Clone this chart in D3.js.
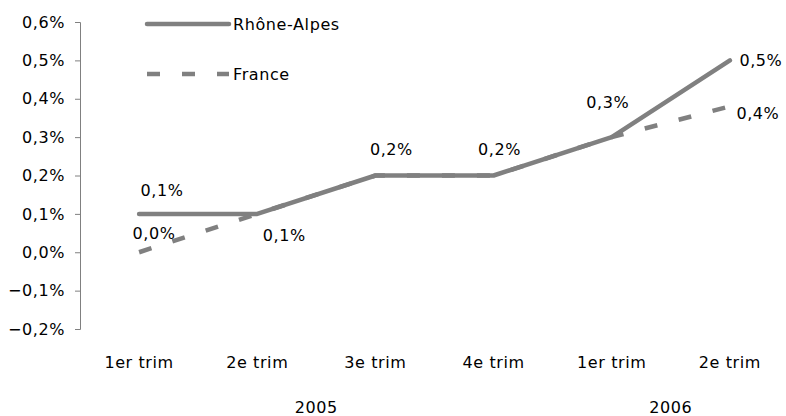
<!DOCTYPE html>
<html lang="fr">
<head>
    <meta charset="UTF-8">
    <title>Rhône-Alpes / France</title>
    <script src="https://cdnjs.cloudflare.com/ajax/libs/d3/7.8.5/d3.min.js"></script>
    <style>
        body { margin: 0; background: #fff; }
        text { font-family: "DejaVu Sans", sans-serif; font-size: 16px; fill: #000; letter-spacing: 0.6px; }
    </style>
</head>
<body>
<svg id="chart" width="786" height="416"></svg>
<script>
    const quarters = ['1er trim', '2e trim', '3e trim', '4e trim', '1er trim', '2e trim'];
    const years = ['2005', '2006'];
    const yearSpan = [[0, 3], [4, 5]];
    const rhoneAlpes = [0.1, 0.1, 0.2, 0.2, 0.3, 0.5];
    const france = [0.0, 0.1, 0.2, 0.2, 0.3, 0.38];
    const yTicks = [-0.2, -0.1, 0, 0.1, 0.2, 0.3, 0.4, 0.5, 0.6];

    const fmt = v => d3.format('.1f')(v).replace('.', ',') + '%';

    const svg = d3.select('#chart');
    const x = d3.scaleBand().domain(d3.range(quarters.length)).range([80, 789]);
    const y = d3.scaleLinear().domain([-0.2, 0.6]).range([329, 22]);
    const cx = i => x(i) + x.bandwidth() / 2;

    // y axis
    const yAxis = d3.axisLeft(y).tickValues(yTicks).tickSize(5).tickPadding(10).tickFormat(fmt);
    const gy = svg.append('g').attr('transform', 'translate(80,0)').call(yAxis);
    gy.selectAll('path, line').attr('stroke', '#808080');
    gy.selectAll('text').style('font-family', '"DejaVu Sans", sans-serif').style('font-size', '16px').attr('fill', '#000');

    // category labels
    svg.append('g').selectAll('text').data(quarters).join('text')
        .attr('x', (d, i) => cx(i)).attr('y', 368)
        .attr('text-anchor', 'middle').text(d => d);
    svg.append('g').selectAll('text').data(years).join('text')
        .attr('x', (d, i) => (cx(yearSpan[i][0]) + cx(yearSpan[i][1])) / 2).attr('y', 413)
        .attr('text-anchor', 'middle').text(d => d);

    const line = d3.line().x((d, i) => cx(i)).y(d => y(d));

    svg.append('path').datum(rhoneAlpes).attr('d', line)
        .attr('fill', 'none').attr('stroke', '#808080').attr('stroke-width', 4.5)
        .attr('stroke-linecap', 'round').attr('stroke-linejoin', 'round');
    svg.append('path').datum(france).attr('d', line)
        .attr('fill', 'none').attr('stroke', '#808080').attr('stroke-width', 4.5)
        .attr('stroke-dasharray', '13,22');

    // data labels (Excel-like placements, offsets of the baseline from the point)
    const raOff = [[23, -18], null, [16, -21], [6, -21], [-4, -29], [31, 6]];
    const frOff = [[15, -13], [27, 27], null, null, null, [28, 13]];
    rhoneAlpes.forEach((v, i) => {
        if (!raOff[i]) return;
        svg.append('text').attr('x', cx(i) + raOff[i][0]).attr('y', y(v) + raOff[i][1])
            .attr('text-anchor', 'middle').text(fmt(v));
    });
    france.forEach((v, i) => {
        if (!frOff[i]) return;
        svg.append('text').attr('x', cx(i) + frOff[i][0]).attr('y', y(v) + frOff[i][1])
            .attr('text-anchor', 'middle').text(fmt(Math.round(v * 10) / 10));
    });

    // legend
    const lg = svg.append('g');
    lg.append('line').attr('x1', 147).attr('x2', 229).attr('y1', 24).attr('y2', 24)
        .attr('stroke', '#808080').attr('stroke-width', 4.5).attr('stroke-linecap', 'round');
    lg.append('text').attr('x', 233).attr('y', 30).text('Rhône-Alpes');
    lg.append('line').attr('x1', 147).attr('x2', 229).attr('y1', 74).attr('y2', 74)
        .attr('stroke', '#808080').attr('stroke-width', 4.5).attr('stroke-dasharray', '13,22');
    lg.append('text').attr('x', 233).attr('y', 80).text('France');
</script>
</body>
</html>
